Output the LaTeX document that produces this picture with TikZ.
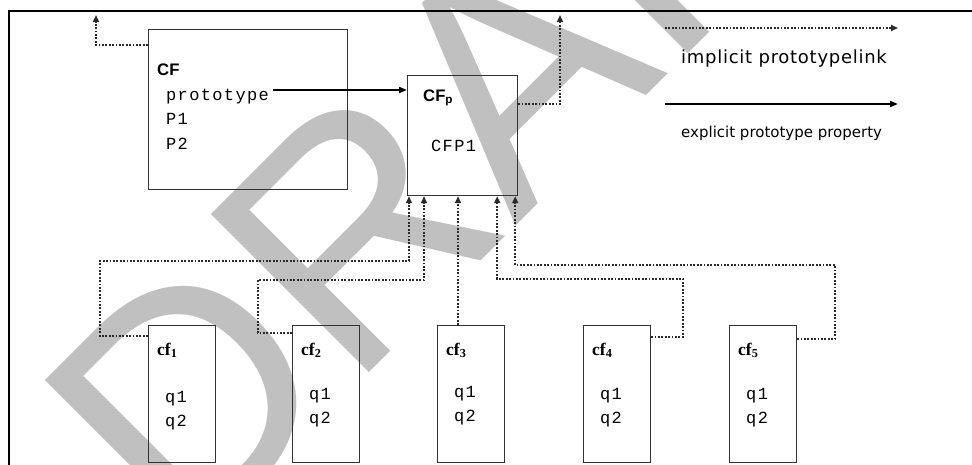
\documentclass[tikz,border=0pt]{standalone}
\usepackage{fontspec}
\setmainfont{Liberation Serif}
\newfontfamily\boldsans{Liberation Sans}
\newfontfamily\monof{Liberation Mono}[LetterSpace=8]
\newfontfamily\legendf{DejaVu Sans}
\newfontfamily\wmf{Liberation Sans}
\usetikzlibrary{arrows.meta,calc}
\definecolor{boxc}{HTML}{333333}
\definecolor{dotc}{HTML}{2A2A2A}
\definecolor{wm}{HTML}{C0C0C0}
\begin{document}
\begin{tikzpicture}[x=1pt,y=-1pt,
  box/.style={draw=boxc, line width=1.2pt, anchor=north west, inner sep=0pt},
  dotline/.style={draw=dotc, line width=1.8pt, dash pattern=on 1.8pt off 1.6pt, -{Triangle[length=7pt,width=6pt]}},
  solidarrow/.style={line width=1.8pt, -{Triangle[length=8pt,width=6pt]}},
  lbl/.style={anchor=base west, inner sep=0pt},
  big/.style={lbl, font=\boldsans\bfseries\fontsize{16.7}{18}\selectfont},
  small/.style={lbl, font=\bfseries\fontsize{17.5}{18}\selectfont},
  mono/.style={lbl, font=\monof\fontsize{17}{19}\selectfont},
]
\useasboundingbox (0,0) rectangle (972,464);
\clip (0,0) rectangle (972,464);
% watermark
\node[rotate=45, anchor=base west, inner sep=0pt, text=wm, font=\wmf\fontsize{325}{325}\selectfont] (wmk) at (184,558) {DRAFT};
% frame
\draw[line width=2pt] (972,11) -- (9,11) -- (9,470);
% main boxes
\node[box, minimum width=199pt, minimum height=160pt] (CF) at (148,29) {};
\node[box, minimum width=110pt, minimum height=120pt] (CFp) at (407,75) {};
\node[big] (tCF) at (157,75) {CF};
\node[mono] (tproto) at (166,100) {prototype};
\node[mono] (tP1) at (166,124) {P1};
\node[mono] (tP2) at (166,149) {P2};
\node[big] (tCFp) at (423,101) {CF\textsubscript{p}};
\node[mono] (tCFP1) at (431,151) {CFP1};
% lower boxes
\foreach \n/\x/\qy in {1/148/402, 2/292/399, 3/437/397, 4/583/399, 5/729/399}{
  \node[box, minimum width=67pt, minimum height=137pt] (cf\n) at (\x,325) {};
  \node[small] (tcf\n) at ($(\x,355)+(9,0)$) {cf\textsubscript{\n}};
  \node[mono] (q1\n) at ($(\x,\qy)+(17,0)$) {q1};
  \node[mono] (q2\n) at ($(\x,\qy)+(17,24)$) {q2};
}
% legend
\coordinate (l1a) at (665,28);
\coordinate (l1b) at (898,28);
\coordinate (l2a) at (665,104);
\coordinate (l2b) at (898,104);
\draw[dotline] (l1a) -- (l1b);
\draw[solidarrow] (l2a) -- (l2b);
\node[lbl, font=\legendf\addfontfeature{LetterSpace=4}\fontsize{18}{20}\selectfont] (leg1) at (681,63) {implicit prototypelink};
\node[lbl, font=\legendf\fontsize{15}{17}\selectfont] (leg2) at (681,137) {explicit prototype property};
% explicit prototype link
\draw[solidarrow] (tproto.east |- 0,90) ++(4,0) coordinate (pstart) -- (CFp.west |- pstart);
% implicit links upward
\coordinate (up1) at (96,15);
\coordinate (up2) at (560,15);
\draw[dotline] ([yshift=-16pt]CF.north west) -| (up1);
\draw[dotline] ([yshift=-29pt]CFp.north east) -| (up2);
% from lower boxes to CFp
\coordinate (k1) at (100,261);
\coordinate (k2) at (258,280);
\coordinate (k4) at (683,279);
\coordinate (k5) at (835,265);
\draw[dotline] ([yshift=-11pt]cf1.north west) -| (k1) -| ([xshift=2pt]CFp.south west);
\draw[dotline] ([yshift=-8pt]cf2.north west) -| (k2) -| ([xshift=17pt]CFp.south west);
\draw[dotline] ([xshift=21pt]cf3.north west) -- ([xshift=51pt]CFp.south west);
\draw[dotline] ([yshift=-12pt]cf4.north east) -| (k4) -| ([xshift=-21pt]CFp.south east);
\draw[dotline] ([yshift=-14pt]cf5.north east) -| (k5) -| ([xshift=-3pt]CFp.south east);
\end{tikzpicture}
\end{document}
